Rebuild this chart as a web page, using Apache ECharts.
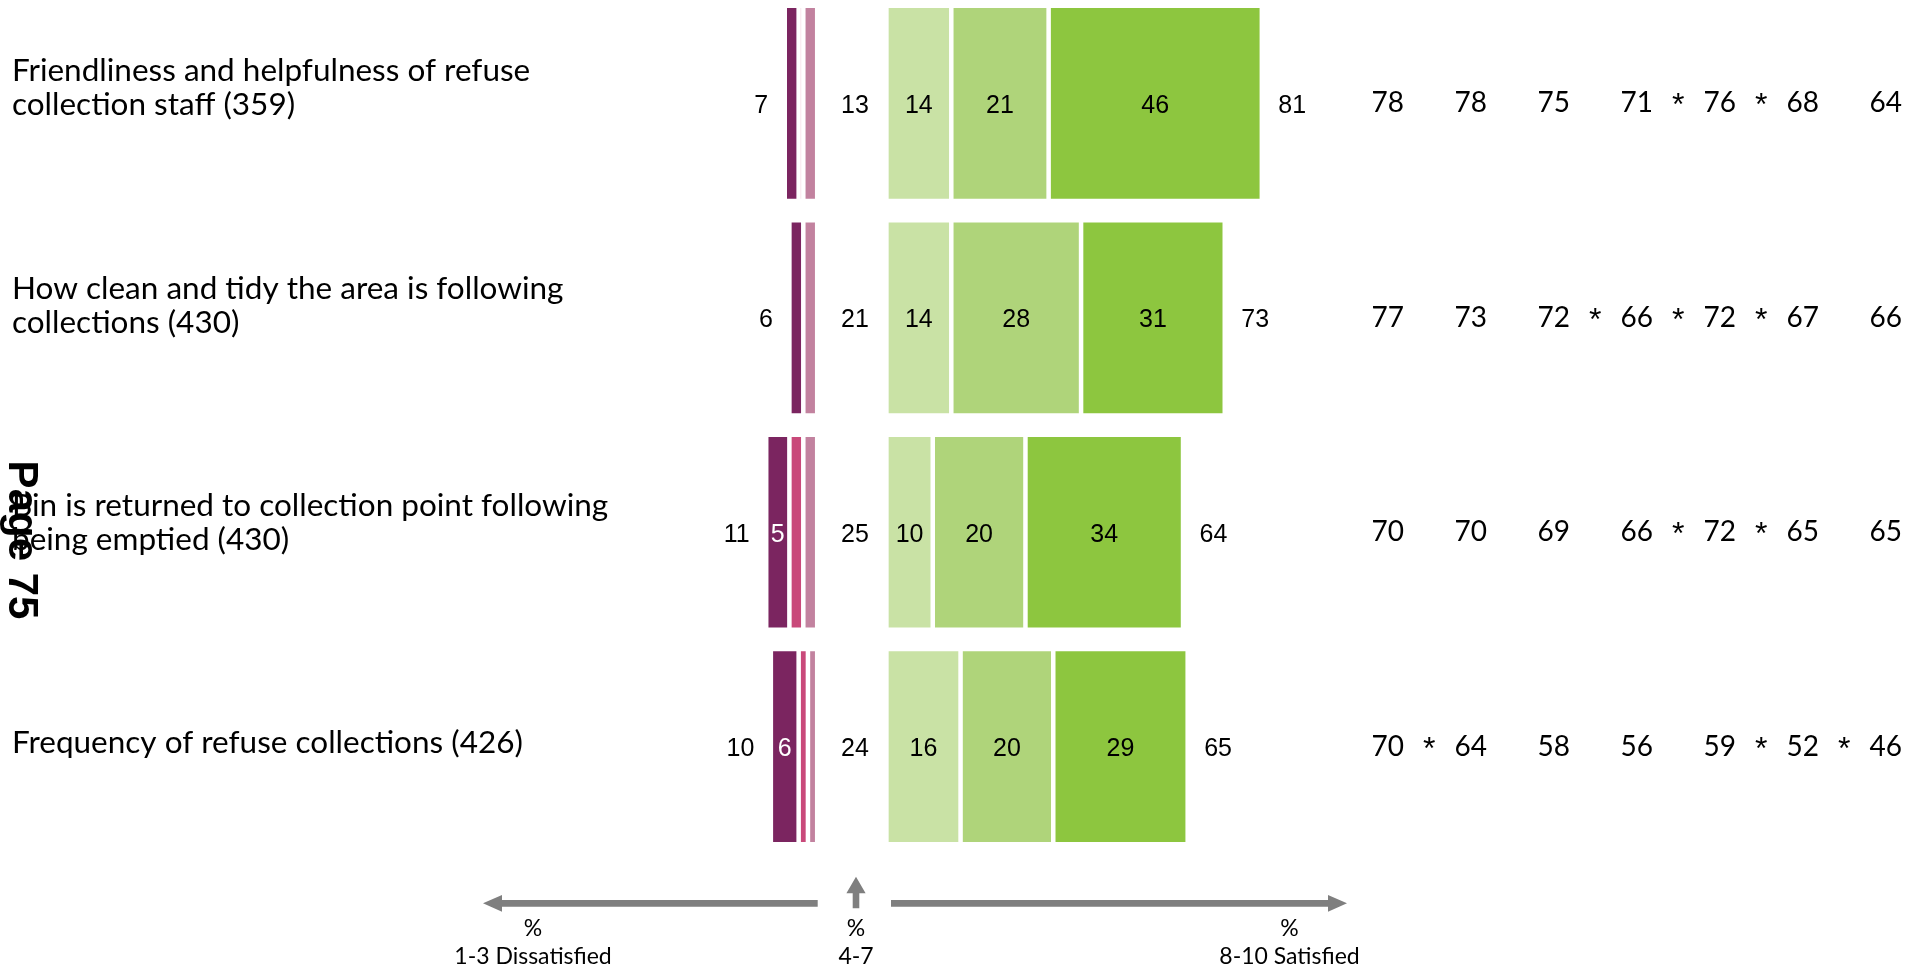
<!DOCTYPE html>
<html>
<head>
<meta charset="utf-8">
<script src="https://cdn.jsdelivr.net/npm/echarts@6/dist/echarts.min.js"></script>
<style>
  html, body { margin: 0; padding: 0; background: #ffffff; }
  #chart { width: 1926px; height: 970px; }
</style>
</head>
<body>
<div id="chart"></div>
<script>
// Survey statements (row labels, base size in brackets)
const statements = [
  'Friendliness and helpfulness of refuse\ncollection staff (359)',
  'How clean and tidy the area is following\ncollections (430)',
  'Bin is returned to collection point following\nbeing emptied (430)',
  'Frequency of refuse collections (426)'
];

// % scoring 1, 2 and 3 (dissatisfied)
const score1 = [3, 3, 5, 6];
const score2 = [1, 0, 3, 2];
const score3 = [3, 3, 3, 2];

// % scoring 4-7
const neutral = [13, 21, 25, 24];

// % scoring 8, 9 and 10 (satisfied)
const score8 = [14, 14, 10, 16];
const score9 = [21, 28, 20, 20];
const score10 = [46, 31, 34, 29];

// Comparison columns (% satisfied), with significance markers
const comparisonColumns = ['c1', 'c2', 'c3', 'c4', 'c5', 'c6', 'c7'];
const comparison = [
  [78, 78, 75, 71, 76, 68, 64],
  [77, 73, 72, 66, 72, 67, 66],
  [70, 70, 69, 66, 72, 65, 65],
  [70, 64, 58, 56, 59, 52, 46]
];
const significant = [
  [0, 0, 0, 0, 1, 1, 0],
  [0, 0, 0, 1, 1, 1, 0],
  [0, 0, 0, 0, 1, 1, 0],
  [0, 1, 0, 0, 0, 1, 1]
];

// Bottom key text
const keyLabels = ['1-3 Dissatisfied', '4-7', '8-10 Satisfied'];

// ---- derived totals ----
const dissatisfiedTotal = score1.map((v, i) => v + score2[i] + score3[i]);
const satisfiedTotal = score8.map((v, i) => v + score9[i] + score10[i]);

// ---- styling ----
const SANS = '"Liberation Sans", Arial, sans-serif';
const GEO = 'Lato, "Open Sans", sans-serif';
const COLORS = {
  s1: '#7b2560', s2: '#c9497a', s3: '#c2829f',
  s8: '#c9e2a5', s9: '#afd47a', s10: '#8dc63f',
  arrow: '#7f7f7f'
};
const GRID_TOP = -3.8, GRID_H = 857.7;
const BAR_W = 195.2;
const BORDER = 2.25;
const NUM_SIZE = 25;
const NUM_SHIFT = [0, 2.5];
// how far each statement sits above its row centre (px)
const labelLift = [16, 11.7, 9, 4];

const gridBox = (left, width) => ({
  left, width, top: GRID_TOP, height: GRID_H,
  containLabel: false, outerBoundsMode: 'none'
});
const grids = [
  gridBox(724.5, 92.7),   // dissatisfied
  gridBox(824, 62),       // 4-7
  gridBox(886.4, 463.5),  // satisfied
  gridBox(1346.2, 581)    // comparison
];

// an empty trailing line of chosen height lifts each statement block
const liftRich = {};
labelLift.forEach((h, i) => {
  liftRich['g' + i] = { height: h * 2, lineHeight: h * 2, fontSize: 1 };
});

function catAxis(idx, showLabels) {
  const ax = {
    gridIndex: idx, type: 'category', inverse: true,
    data: statements,
    axisLine: { show: false }, axisTick: { show: false }, splitLine: { show: false },
    axisLabel: { show: false }
  };
  if (showLabels) {
    ax.axisLabel = {
      show: true, interval: 0, margin: 724.5 - 12, hideOverlap: false,
      align: 'left', verticalAlign: 'middle',
      fontFamily: GEO, fontSize: 31.5, lineHeight: 34, color: '#000',
      formatter: (value, index) => value + '\n{g' + index + '| }',
      rich: liftRich
    };
  }
  return ax;
}

const barBase = (name, xi, stack, data, color) => ({
  name, type: 'bar', xAxisIndex: xi, yAxisIndex: xi, stack,
  data, barWidth: BAR_W,
  itemStyle: { color, borderColor: '#fff', borderWidth: BORDER },
  label: {
    show: true, position: 'inside', fontFamily: SANS, fontSize: NUM_SIZE, color: '#000',
    offset: NUM_SHIFT,
    formatter: p => String(p.value)
  }
});

const hiddenScatter = (xi, data, label) => ({
  type: 'scatter', xAxisIndex: xi, yAxisIndex: xi, data,
  symbolSize: 1, itemStyle: { color: 'rgba(255,255,255,0)', opacity: 1 },
  label: Object.assign({
    show: true, fontFamily: SANS, fontSize: NUM_SIZE, color: '#000', opacity: 1, offset: NUM_SHIFT
  }, label),
  z: 5
});

// dissatisfied bars (stacked outward from the centre)
const s3 = barBase('3', 0, 'dis', score3, COLORS.s3);
s3.label.show = false;
const s2 = barBase('2', 0, 'dis', score2, COLORS.s2);
s2.label.show = false;
const s1 = barBase('1', 0, 'dis', score1, COLORS.s1);
s1.label.color = '#fff';
s1.label.formatter = p => (p.value >= 5 ? String(p.value) : '');

const s8 = barBase('8', 2, 'sat', score8, COLORS.s8);
const s9 = barBase('9', 2, 'sat', score9, COLORS.s9);
const s10 = barBase('10', 2, 'sat', score10, COLORS.s10);

const comparisonPoints = [];
const markerPoints = [];
comparison.forEach((row, r) => row.forEach((v, c) => {
  comparisonPoints.push([c, r, v]);
  if (significant[r][c]) markerPoints.push([c, r]);
}));

const series = [
  s3, s2, s1, s8, s9, s10,
  hiddenScatter(0, dissatisfiedTotal.map((v, i) => [v, i]),
    { position: 'left', distance: 16, formatter: p => String(p.value[0]) }),
  hiddenScatter(1, neutral.map((v, i) => [0, i, v]),
    { position: 'inside', formatter: p => String(p.value[2]) }),
  hiddenScatter(2, satisfiedTotal.map((v, i) => [v, i]),
    { position: 'right', distance: 16, formatter: p => String(p.value[0]) }),
  hiddenScatter(3, comparisonPoints,
    { position: 'inside', fontFamily: GEO, fontSize: 28, offset: [0, 0], formatter: p => String(p.value[2]) }),
  hiddenScatter(3, markerPoints,
    { position: 'inside', fontFamily: SANS, fontSize: 32, offset: [-41.5, 3], formatter: () => '*' })
];

// arrows of the bottom key
const Y0 = 903.3, HALF = 3.35, HEAD = 8.35;
const arrowLeft = [[817.7, Y0 - HALF], [502, Y0 - HALF], [502, Y0 - HEAD], [483, Y0],
  [502, Y0 + HEAD], [502, Y0 + HALF], [817.7, Y0 + HALF]];
const arrowRight = [[891, Y0 - HALF], [1328, Y0 - HALF], [1328, Y0 - HEAD], [1347, Y0],
  [1328, Y0 + HEAD], [1328, Y0 + HALF], [891, Y0 + HALF]];
const arrowUp = [[852.7, 908.3], [852.7, 893.3], [846.4, 893.3], [856, 876.7],
  [865.6, 893.3], [859.3, 893.3], [859.3, 908.3]];

const keyX = [533, 856, 1289.5];
const graphic = [
  { type: 'polygon', shape: { points: arrowLeft }, style: { fill: COLORS.arrow } },
  { type: 'polygon', shape: { points: arrowRight }, style: { fill: COLORS.arrow } },
  { type: 'polygon', shape: { points: arrowUp }, style: { fill: COLORS.arrow } }
];
keyLabels.forEach((t, i) => {
  graphic.push({ type: 'text', x: keyX[i], y: 929,
    style: { text: '%', font: '23px ' + GEO, fill: '#000', textAlign: 'center', textVerticalAlign: 'middle' } });
  graphic.push({ type: 'text', x: keyX[i], y: 957,
    style: { text: t, font: '23px ' + GEO, fill: '#000', textAlign: 'center', textVerticalAlign: 'middle' } });
});
graphic.push({
  type: 'text', x: 21, y: 540, rotation: -Math.PI / 2, z: 100,
  style: { text: 'Page 75', font: 'bold 42px ' + SANS, fill: '#000', textAlign: 'center', textVerticalAlign: 'middle' }
});

const chart = echarts.init(document.getElementById('chart'), null, { renderer: 'canvas' });
chart.setOption({
  animation: false,
  backgroundColor: '#ffffff',
  textStyle: { fontFamily: SANS },
  grid: grids,
  xAxis: [
    { gridIndex: 0, type: 'value', min: 0, max: 20, inverse: true, show: false },
    { gridIndex: 1, type: 'category', data: [keyLabels[1]], show: false },
    { gridIndex: 2, type: 'value', min: 0, max: 100, show: false },
    { gridIndex: 3, type: 'category', data: comparisonColumns, show: false }
  ],
  yAxis: [catAxis(0, true), catAxis(1, false), catAxis(2, false), catAxis(3, false)],
  series,
  graphic
});
</script>
</body>
</html>
